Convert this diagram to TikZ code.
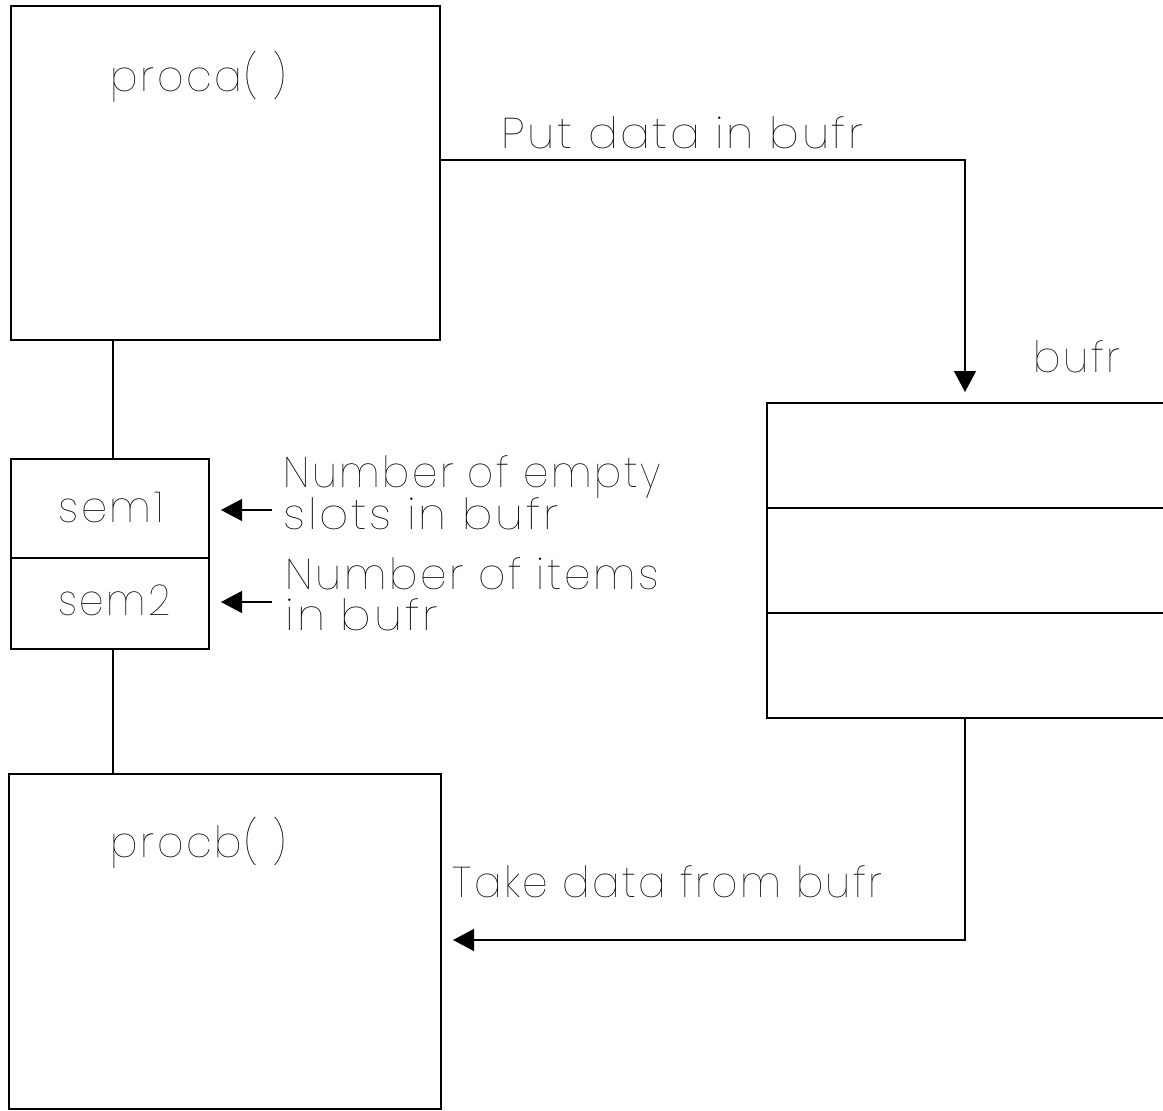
\documentclass[tikz,border=0pt]{standalone}
\usepackage{fontspec}
\setmainfont{Poppins Thin}[LetterSpace=6]
\usetikzlibrary{arrows.meta}
% stretch a label horizontally to a given width, keeping its height
\newcommand\fitw[2]{\resizebox{#1pt}{\height}{#2}}

\begin{document}
\begin{tikzpicture}[x=1pt, y=-1pt, line width=1.3pt,
  box/.style={draw, inner sep=0pt, outer sep=0pt, minimum width=#1},
  lbl/.style={anchor=base west, inner sep=0pt, font=\fontsize{43}{43}\selectfont},
  arr/.style={-{Triangle[length=21pt, width=22pt]}}]
  \useasboundingbox (0,0) rectangle (1163,1111);
  \clip (0,0) rectangle (1163,1111);

  % processes
  \node[box=429pt, minimum height=334pt] (proca) at (225.5,173) {};
  \node[box=432pt, minimum height=335pt] (procb) at (225,941.5) {};
  \node[lbl] (procaLbl) at (110,91) {\fitw{176}{proca( )}};
  \node[lbl] (procbLbl) at (110,857) {\fitw{176}{procb( )}};

  % semaphores
  \node[box=198pt, minimum height=99pt] (semA) at (110,508.5) {};
  \node[box=198pt, minimum height=91pt] (semB) at (110,603.5) {};
  \node[lbl] (semAl) at (58,522) {\fitw{105}{sem1}};
  \node[lbl] (semBl) at (58,615) {\fitw{112}{sem2}};
  \draw (proca.south -| 113,0) -- (semA.north -| 113,0);
  \draw (semB.south -| 113,0) -- (procb.north -| 113,0);

  % semaphore notes
  \node[lbl] (n1) at (283,487) {\fitw{377}{Number of empty}};
  \node[lbl] (n2) at (283,529) {\fitw{275}{slots in bufr}};
  \node[lbl] (n3) at (285,589) {\fitw{373}{Number of items}};
  \node[lbl] (n4) at (285,630) {\fitw{152}{in bufr}};
  \coordinate (n1end) at (272,510);
  \coordinate (n3end) at (272,602);
  \draw[arr] (n1end) -- (n1end -| 221,0);
  \draw[arr] (n3end) -- (n3end -| 221,0);

  % buffer
  \node[box=413pt, minimum height=315pt] (bufr) at (973.5,560.5) {};
  \draw (bufr.west |- 0,508) -- ++(420,0);
  \draw (bufr.west |- 0,613) -- ++(420,0);
  \node[lbl] (bufrLbl) at (1033,372) {\fitw{87}{bufr}};

  % data flow
  \coordinate (putEnd) at (965,392);
  \coordinate (takeEnd) at (453,940);
  \draw[arr] (proca.east |- 0,160) -| (putEnd);
  \node[lbl] (putLbl) at (501,148) {\fitw{362}{Put data in bufr}};
  \draw[arr] (bufr.south -| putEnd) |- (takeEnd);
  \node[lbl] (takeLbl) at (452,897) {\fitw{430}{Take data from bufr}};
\end{tikzpicture}
\end{document}
